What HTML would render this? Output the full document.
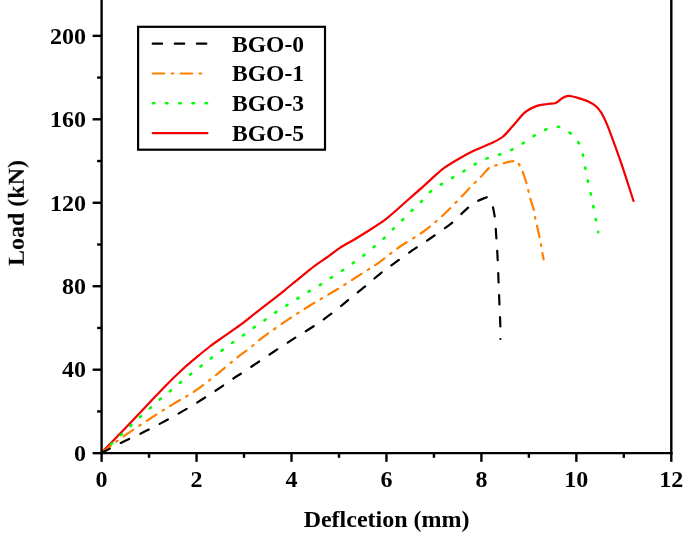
<!DOCTYPE html>
<html><head><meta charset="utf-8"><title>Load-Deflection</title>
<style>
html,body{margin:0;padding:0;background:#fff;}
body{width:685px;height:534px;overflow:hidden;}
svg{display:block;}
text{font-family:"Liberation Serif",serif;font-weight:bold;font-size:24px;fill:#000;}
</style></head><body>
<svg width="685" height="534" viewBox="0 0 685 534">
<defs><filter id="gs" filterUnits="userSpaceOnUse" x="0" y="0" width="685" height="534"><feOffset dx="0" dy="0"/></filter></defs>
<rect x="0" y="0" width="685" height="534" fill="#ffffff"/>

<g fill="none" stroke-width="2.2" stroke-linecap="round" stroke-linejoin="round">
<path d="M101.40 452.80 C108.93 445.00 116.38 437.32 124.00 429.40 C131.62 421.48 140.32 412.42 147.10 405.30 C153.88 398.18 158.92 392.58 164.70 386.70 C170.48 380.82 176.77 374.67 181.80 370.00 C186.83 365.33 190.23 362.62 194.90 358.70 C199.57 354.78 204.83 350.30 209.80 346.50 C214.77 342.70 219.67 339.45 224.70 335.90 C229.73 332.35 234.62 329.22 240.00 325.20 C245.38 321.18 251.37 316.18 257.00 311.80 C262.63 307.42 269.15 302.52 273.80 298.90 C278.45 295.28 280.57 293.62 284.90 290.10 C289.23 286.58 294.83 281.83 299.80 277.80 C304.77 273.77 310.08 269.37 314.70 265.90 C319.32 262.43 323.30 260.02 327.50 257.00 C331.70 253.98 335.35 250.77 339.90 247.80 C344.45 244.83 349.83 242.17 354.80 239.20 C359.77 236.23 364.63 233.27 369.70 230.00 C374.77 226.73 381.00 222.68 385.20 219.60 C389.40 216.52 390.80 215.07 394.90 211.50 C399.00 207.93 404.83 202.60 409.80 198.20 C414.77 193.80 420.32 189.02 424.70 185.10 C429.08 181.18 432.73 177.65 436.10 174.70 C439.47 171.75 440.95 170.15 444.90 167.40 C448.85 164.65 454.83 161.05 459.80 158.20 C464.77 155.35 469.67 152.70 474.70 150.30 C479.73 147.90 485.37 146.02 490.00 143.80 C494.63 141.58 498.55 140.13 502.50 137.00 C506.45 133.87 509.97 129.10 513.70 125.00 C517.43 120.90 521.15 115.55 524.90 112.40 C528.65 109.25 532.45 107.50 536.20 106.10 C539.95 104.70 544.13 104.52 547.40 104.00 C550.67 103.48 553.37 103.93 555.80 103.00 C558.23 102.07 559.88 99.60 562.00 98.40 C564.12 97.20 565.88 95.88 568.50 95.80 C571.12 95.72 574.42 96.95 577.70 97.90 C580.98 98.85 585.13 100.10 588.20 101.50 C591.27 102.90 593.90 104.42 596.10 106.30 C598.30 108.18 599.65 109.95 601.40 112.80 C603.15 115.65 604.42 118.13 606.60 123.40 C608.78 128.67 611.87 137.18 614.50 144.40 C617.13 151.62 619.23 157.27 622.40 166.70 C625.57 176.13 629.80 189.57 633.50 201.00" stroke="#f40000"/>
<path d="M101.60 453.00 C104.93 449.90 108.37 446.72 111.60 443.70 C114.83 440.68 117.82 437.88 121.00 434.90 C124.18 431.92 127.45 428.85 130.70 425.80 C133.95 422.75 137.22 419.58 140.50 416.60 C143.78 413.62 147.12 410.82 150.40 407.90 C153.68 404.98 156.85 401.95 160.20 399.10 C163.55 396.25 167.03 393.65 170.50 390.80 C173.97 387.95 177.60 384.82 181.00 382.00 C184.40 379.18 187.50 376.60 190.90 373.90 C194.30 371.20 197.87 368.53 201.40 365.80 C204.93 363.07 208.57 360.15 212.10 357.50 C215.63 354.85 219.03 352.48 222.60 349.90 C226.17 347.32 229.90 344.55 233.50 342.00 C237.10 339.45 240.67 337.12 244.20 334.60 C247.73 332.08 251.12 329.42 254.70 326.90 C258.28 324.38 262.05 322.05 265.70 319.50 C269.35 316.95 272.88 314.08 276.60 311.60 C280.32 309.12 284.27 306.93 288.00 304.60 C291.73 302.27 295.35 299.90 299.00 297.60 C302.65 295.30 306.25 293.00 309.90 290.80 C313.55 288.60 317.25 286.67 320.90 284.40 C324.55 282.13 328.08 279.60 331.80 277.20 C335.52 274.80 339.55 272.43 343.20 270.00 C346.85 267.57 350.23 265.07 353.70 262.60 C357.17 260.13 360.57 257.87 364.00 255.20 C367.43 252.53 371.03 249.35 374.30 246.60 C377.57 243.85 380.52 241.58 383.60 238.70 C386.68 235.82 389.73 232.33 392.80 229.30 C395.87 226.27 398.88 223.57 402.00 220.50 C405.12 217.43 408.35 214.00 411.50 210.90 C414.65 207.80 417.73 205.12 420.90 201.90 C424.07 198.68 426.97 194.60 430.50 191.60 C434.03 188.60 438.33 186.27 442.10 183.90 C445.87 181.53 449.38 179.58 453.10 177.40 C456.82 175.22 460.68 173.03 464.40 170.80 C468.12 168.57 471.53 166.12 475.40 164.00 C479.27 161.88 483.38 159.75 487.60 158.10 C491.82 156.45 496.63 155.52 500.70 154.10 C504.77 152.68 508.23 151.43 512.00 149.60 C515.77 147.77 519.57 145.42 523.30 143.10 C527.03 140.78 530.58 137.98 534.40 135.70 C538.22 133.42 542.27 130.88 546.20 129.40 C550.13 127.92 554.28 126.40 558.00 126.80 C561.72 127.20 565.30 129.53 568.50 131.80 C571.70 134.07 574.92 136.98 577.20 140.40 C579.48 143.82 580.93 148.13 582.20 152.30 C583.47 156.47 583.93 160.90 584.80 165.40 C585.67 169.90 586.47 174.87 587.40 179.30 C588.33 183.73 589.47 187.78 590.40 192.00 C591.33 196.22 592.15 200.30 593.00 204.60 C593.85 208.90 594.63 213.20 595.50 217.80 C596.37 222.40 597.30 227.40 598.20 232.20" stroke="#00ff00" stroke-dasharray="1.4 11.748" stroke-width="2.6"/>
<path d="M101.60 453.00 C108.37 447.83 114.32 442.90 121.90 437.50 C129.48 432.10 138.70 426.08 147.10 420.60 C155.50 415.12 164.45 409.45 172.30 404.60 C180.15 399.75 186.92 396.43 194.20 391.50 C201.48 386.57 209.07 380.48 216.00 375.00 C222.93 369.52 230.32 362.97 235.80 358.60 C241.28 354.23 244.40 352.33 248.90 348.80 C253.40 345.27 256.10 342.40 262.80 337.40 C269.50 332.40 280.70 324.45 289.10 318.80 C297.50 313.15 305.17 308.42 313.20 303.50 C321.23 298.58 329.27 294.23 337.30 289.30 C345.33 284.37 354.28 278.48 361.40 273.90 C368.52 269.32 373.67 266.28 380.00 261.80 C386.33 257.32 392.15 252.05 399.40 247.00 C406.65 241.95 416.20 236.83 423.50 231.50 C430.80 226.17 436.63 221.05 443.20 215.00 C449.77 208.95 458.43 199.78 462.90 195.20 C467.37 190.62 467.07 190.50 470.00 187.50 C472.93 184.50 477.15 180.63 480.50 177.20 C483.85 173.77 487.63 168.85 490.10 166.90 C492.57 164.95 493.43 166.00 495.30 165.50 C497.17 165.00 498.30 164.62 501.30 163.90 C504.30 163.18 510.48 161.28 513.30 161.20" stroke="#ff8000" stroke-dasharray="11.5 7.26 1.7 7.23"/>
<path d="M518.20 163.40 C519.68 164.98 520.78 167.32 522.20 170.70 C523.62 174.08 525.68 180.42 526.70 183.70 C527.72 186.98 527.77 188.15 528.30 190.40 C528.83 192.65 528.97 193.90 529.90 197.20 C530.83 200.50 533.03 206.83 533.90 210.20 C534.77 213.57 534.15 212.83 535.10 217.40 C536.05 221.97 538.18 230.60 539.60 237.60 C541.02 244.60 542.27 252.13 543.60 259.40" stroke="#ff8000" stroke-dasharray="1.7 7.3 11.6 7.3" stroke-dashoffset="-0.8"/>
<path d="M101.60 453.00 C108.00 449.63 114.32 446.12 120.80 442.90 C127.28 439.68 133.93 436.92 140.50 433.70 C147.07 430.48 153.82 426.98 160.20 423.60 C166.58 420.22 172.60 416.93 178.80 413.40 C185.00 409.87 191.20 406.23 197.40 402.40 C203.60 398.57 209.97 394.42 216.00 390.40 C222.03 386.38 229.22 381.23 233.60 378.30 C237.98 375.37 236.15 376.87 242.30 372.80 C248.45 368.73 261.60 359.80 270.50 353.90 C279.40 348.00 288.58 341.97 295.70 337.40 C302.82 332.83 307.18 330.50 313.20 326.50 C319.22 322.50 325.78 317.97 331.80 313.40 C337.82 308.83 343.45 303.85 349.30 299.10 C355.15 294.35 361.78 289.12 366.90 284.90 C372.02 280.68 375.68 277.23 380.00 273.80 C384.32 270.37 387.37 268.23 392.80 264.30 C398.23 260.37 406.02 254.75 412.60 250.20 C419.18 245.65 425.73 241.57 432.30 237.00 C438.87 232.43 446.17 227.58 452.00 222.80 C457.83 218.02 463.07 211.90 467.30 208.30 C471.53 204.70 473.98 203.13 477.40 201.20 C480.82 199.27 484.33 198.20 487.80 196.70" stroke="#000000" stroke-dasharray="9.3 12.346"/>
<path d="M493.00 207.30 C493.60 210.67 494.28 212.95 494.80 217.40 C495.32 221.85 495.65 227.57 496.10 234.00 C496.55 240.43 497.08 247.87 497.50 256.00 C497.92 264.13 498.27 274.58 498.60 282.80 C498.93 291.02 499.20 297.90 499.50 305.30 C499.80 312.70 500.25 321.58 500.40 327.20 C500.55 332.82 500.40 335.07 500.40 339.00" stroke="#000000" stroke-dasharray="9.4 12.6"/>
</g>
<g stroke="#000" stroke-width="2.4" fill="none" stroke-linecap="butt">
<line x1="101.60" y1="-5" x2="101.60" y2="454.15"/>
<line x1="100.60" y1="453.15" x2="672.50" y2="453.15"/>
<line x1="671.30" y1="-5" x2="671.30" y2="454.15"/>
<line x1="101.60" y1="453.15" x2="101.60" y2="461.85"/>
<line x1="149.07" y1="453.15" x2="149.07" y2="457.85"/>
<line x1="196.55" y1="453.15" x2="196.55" y2="461.85"/>
<line x1="244.02" y1="453.15" x2="244.02" y2="457.85"/>
<line x1="291.50" y1="453.15" x2="291.50" y2="461.85"/>
<line x1="338.97" y1="453.15" x2="338.97" y2="457.85"/>
<line x1="386.45" y1="453.15" x2="386.45" y2="461.85"/>
<line x1="433.92" y1="453.15" x2="433.92" y2="457.85"/>
<line x1="481.40" y1="453.15" x2="481.40" y2="461.85"/>
<line x1="528.88" y1="453.15" x2="528.88" y2="457.85"/>
<line x1="576.35" y1="453.15" x2="576.35" y2="461.85"/>
<line x1="623.82" y1="453.15" x2="623.82" y2="457.85"/>
<line x1="671.30" y1="453.15" x2="671.30" y2="461.85"/>
<line x1="101.60" y1="453.15" x2="92.60" y2="453.15"/>
<line x1="101.60" y1="411.42" x2="97.10" y2="411.42"/>
<line x1="101.60" y1="369.69" x2="92.60" y2="369.69"/>
<line x1="101.60" y1="327.96" x2="97.10" y2="327.96"/>
<line x1="101.60" y1="286.23" x2="92.60" y2="286.23"/>
<line x1="101.60" y1="244.50" x2="97.10" y2="244.50"/>
<line x1="101.60" y1="202.77" x2="92.60" y2="202.77"/>
<line x1="101.60" y1="161.04" x2="97.10" y2="161.04"/>
<line x1="101.60" y1="119.31" x2="92.60" y2="119.31"/>
<line x1="101.60" y1="77.58" x2="97.10" y2="77.58"/>
<line x1="101.60" y1="35.85" x2="92.60" y2="35.85"/>
</g>
<g filter="url(#gs)">
<text x="101.60" y="487" text-anchor="middle">0</text>
<text x="196.55" y="487" text-anchor="middle">2</text>
<text x="291.50" y="487" text-anchor="middle">4</text>
<text x="386.45" y="487" text-anchor="middle">6</text>
<text x="481.40" y="487" text-anchor="middle">8</text>
<text x="576.35" y="487" text-anchor="middle">10</text>
<text x="671.30" y="487" text-anchor="middle">12</text>
<text x="86" y="460.95" text-anchor="end">0</text>
<text x="86" y="377.49" text-anchor="end">40</text>
<text x="86" y="294.03" text-anchor="end">80</text>
<text x="86" y="210.57" text-anchor="end">120</text>
<text x="86" y="127.11" text-anchor="end">160</text>
<text x="86" y="43.65" text-anchor="end">200</text>
<text x="386.6" y="526.6" text-anchor="middle">Deflcetion (mm)</text>
<text transform="translate(23.8 213) rotate(-90)" text-anchor="middle">Load (kN)</text>
</g>
<rect x="138.1" y="26.8" width="186.9" height="122.9" fill="#fff" stroke="#000" stroke-width="2.2"/>
<g fill="none" stroke-width="2.2" stroke-linecap="round">
<line x1="152.7" y1="43.7" x2="208" y2="43.7" stroke="#000" stroke-dasharray="9.4 12.7"/>
<line x1="152.7" y1="73.5" x2="203" y2="73.5" stroke="#ff8000" stroke-dasharray="11.6 7.3 1.7 7.3"/>
<line x1="153" y1="103.3" x2="208" y2="103.3" stroke="#00ff00" stroke-width="2.6" stroke-dasharray="1.4 11.748"/>
<line x1="152.7" y1="133.1" x2="207.5" y2="133.1" stroke="#f40000"/>
</g>
<g filter="url(#gs)">
<text x="232" y="51.60" style="font-size:23.6px">BGO-0</text>
<text x="232" y="81.35" style="font-size:23.6px">BGO-1</text>
<text x="232" y="111.10" style="font-size:23.6px">BGO-3</text>
<text x="232" y="140.85" style="font-size:23.6px">BGO-5</text>
</g>
</svg></body></html>
